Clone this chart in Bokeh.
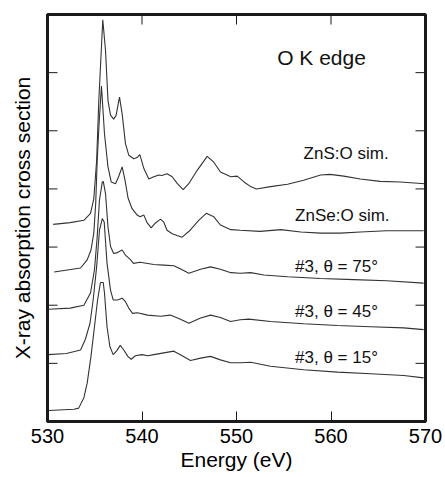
import math
from bokeh.plotting import figure
from bokeh.models import FixedTicker, Range1d
from bokeh.embed import file_html
from bokeh.resources import INLINE
from bokeh.core.properties import value

# ---- data (energy in eV, offset absorption in arbitrary units) ----
zns_e = [530.6, 532.4, 533.85, 534.55, 534.9, 535.2, 535.43, 535.85, 536.14, 536.4, 536.67, 537.0,
         537.25, 537.62, 537.9, 538.25, 538.6, 539.13, 539.48, 539.77, 540.2, 540.72, 541.25, 541.78,
         542.1, 542.65, 543.2, 543.7, 544.36, 544.95, 545.84, 546.9, 547.6, 548.3, 549.4, 550.07,
         550.8, 551.5, 552.1, 553.6, 555.4, 557.1, 558.9, 559.9, 561.35, 563.1, 565.2, 567.35, 569.9]
zns_v = [3.39, 3.42, 3.46, 3.58, 3.83, 4.49, 5.52, 6.91, 6.38, 5.52, 5.27, 5.20,
         5.26, 5.58, 5.29, 4.78, 4.58, 4.52, 4.54, 4.59, 4.35, 4.17, 4.21, 4.24,
         4.23, 4.26, 4.21, 4.10, 3.99, 4.09, 4.32, 4.56, 4.46, 4.29, 4.21, 4.22,
         4.12, 4.04, 4.00, 4.04, 4.08, 4.15, 4.24, 4.25, 4.22, 4.17, 4.13, 4.12, 4.09]

znse_e = [530.7, 533.5, 534.2, 534.6, 534.9, 535.1, 535.26, 535.45, 535.71, 536.03, 536.4, 536.74,
          537.2, 537.5, 537.9, 538.2, 538.53, 538.95, 539.49, 539.8, 540.2, 540.5, 540.97, 541.4,
          541.96, 542.3, 542.65, 543.2, 543.7, 544.25, 545.1, 546.0, 546.8, 547.6, 548.3, 549.4,
          550.4, 552.5, 554.7, 556.8, 558.9, 561.0, 563.1, 565.9, 569.8]
znse_v = [2.57, 2.64, 2.78, 2.95, 3.24, 3.75, 4.49, 5.10, 5.77, 4.95, 4.38, 4.12,
          4.09, 4.20, 4.38, 4.15, 3.84, 3.66, 3.55, 3.52, 3.55, 3.43, 3.33, 3.41,
          3.48, 3.43, 3.29, 3.23, 3.20, 3.17, 3.29, 3.46, 3.58, 3.52, 3.38, 3.30,
          3.29, 3.27, 3.30, 3.26, 3.24, 3.24, 3.26, 3.28, 3.28]

t75_e = [530.1, 532.4, 533.85, 534.55, 534.97, 535.26, 535.5, 535.8, 535.9, 536.14, 536.4, 536.67,
         537.0, 537.3, 537.9, 538.25, 538.8, 539.1, 539.8, 541.25, 542.3, 543.37, 544.25, 544.96,
         546.2, 547.25, 548.3, 549.4, 550.4, 551.5, 552.9, 555.4, 558.9, 562.4, 565.9, 569.8]
t75_v = [1.93, 1.95, 2.00, 2.21, 2.61, 3.18, 3.81, 4.12, 4.13, 3.92, 3.35, 3.01,
         2.89, 2.90, 2.95, 2.86, 2.78, 2.72, 2.74, 2.70, 2.69, 2.68, 2.61, 2.55,
         2.62, 2.66, 2.62, 2.56, 2.55, 2.56, 2.52, 2.49, 2.46, 2.44, 2.42, 2.38]

t45_e = [530.1, 532.0, 533.5, 534.0, 534.5, 534.83, 535.2, 535.5, 535.8, 536.0, 536.3, 536.67,
         536.95, 537.4, 537.9, 538.25, 538.6, 539.0, 539.5, 540.6, 541.96, 543.0, 544.07, 544.96,
         546.2, 547.25, 548.3, 549.37, 550.4, 551.3, 553.6, 557.1, 560.7, 564.2, 567.7, 569.8]
t45_v = [1.15, 1.17, 1.23, 1.41, 1.69, 2.09, 2.66, 3.29, 3.49, 3.43, 2.72, 2.26,
         2.09, 2.09, 2.12, 2.06, 1.95, 1.86, 1.87, 1.83, 1.81, 1.83, 1.76, 1.69,
         1.78, 1.83, 1.79, 1.72, 1.75, 1.76, 1.72, 1.68, 1.65, 1.63, 1.61, 1.58]

t15_e = [530.1, 532.8, 533.3, 533.85, 534.2, 534.6, 534.97, 535.3, 535.6, 535.9, 536.03, 536.3,
         536.6, 536.95, 537.3, 537.7, 538.07, 538.5, 538.85, 539.3, 540.0, 540.6, 541.25, 542.3,
         543.37, 544.25, 545.13, 546.2, 547.25, 548.3, 549.37, 550.4, 551.5, 553.6, 557.1, 560.7,
         564.2, 567.7, 569.8]
t15_v = [0.19, 0.21, 0.23, 0.41, 0.66, 1.12, 1.63, 2.09, 2.39, 2.39, 2.21, 1.63,
         1.29, 1.15, 1.21, 1.31, 1.23, 1.12, 1.07, 1.13, 1.15, 1.13, 1.15, 1.18,
         1.21, 1.13, 1.05, 1.09, 1.12, 1.06, 1.01, 1.01, 1.02, 0.95, 0.89, 0.85,
         0.82, 0.79, 0.75]

labels = ["ZnS:O sim.", "ZnSe:O sim.", "#3, \u03b8 = 75\u00b0", "#3, \u03b8 = 45\u00b0", "#3, \u03b8 = 15\u00b0"]
x_ticks = [530, 540, 550, 560, 570]
y_ticks = [1, 2, 3, 4, 5, 6]
X_MIN, X_MAX = 530, 570
Y_MIN, Y_MAX = 0, 7

# annotation anchor positions (data coords)
label_x = [557.1, 556.2, 556.2, 556.2, 556.2]
label_y = [4.61, 3.55, 2.66, 1.89, 1.10]

FONT = "Liberation Sans"
INK = "#1a1a1a"

p = figure(width=445, height=477, output_backend="svg", toolbar_location=None,
           x_range=Range1d(X_MIN, X_MAX), y_range=Range1d(Y_MIN, Y_MAX),
           min_border_left=47, min_border_right=20, min_border_top=14, min_border_bottom=56)
p.background_fill_color = "white"
p.border_fill_color = "white"
p.grid.visible = False
p.outline_line_color = INK
p.outline_line_width = 3

for xs, ys in [(zns_e, zns_v), (znse_e, znse_v), (t75_e, t75_v), (t45_e, t45_v), (t15_e, t15_v)]:
    p.line(xs, ys, line_color="#333333", line_width=1.1)

# inward tick marks on the left/right/top edges (positions from the tick lists)
inner_y = [t for t in y_ticks]
inner_x = [t for t in x_ticks if X_MIN < t < X_MAX]
p.ray(x=[X_MIN] * len(inner_y), y=inner_y, length=10, angle=0, length_units="screen",
      line_color=INK, line_width=1)
p.ray(x=[X_MAX] * len(inner_y), y=inner_y, length=10, angle=math.pi, length_units="screen",
      line_color=INK, line_width=1)
p.ray(x=inner_x, y=[Y_MAX] * len(inner_x), length=10, angle=-math.pi / 2, length_units="screen",
      line_color=INK, line_width=1)

p.text(x=label_x, y=label_y, text=labels, text_font=value(FONT), text_font_size="17px",
       text_align="left", text_baseline="middle", text_color="#111111")
p.text(x=[554.3], y=[6.26], text=["O K edge"], text_font=value(FONT), text_font_size="21px",
       text_align="left", text_baseline="middle", text_color="#111111")

xa = p.xaxis[0]
xa.ticker = FixedTicker(ticks=x_ticks)
xa.major_tick_in = 10
xa.major_tick_out = 0
xa.minor_tick_line_color = None
xa.major_tick_line_color = INK
xa.axis_line_color = INK
xa.axis_line_width = 3
xa.major_label_text_font = FONT
xa.major_label_text_font_size = "20px"
xa.major_label_text_color = "black"
xa.major_label_standoff = 7
xa.axis_label = "Energy (eV)"
xa.axis_label_text_font = FONT
xa.axis_label_text_font_size = "21px"
xa.axis_label_text_font_style = "normal"
xa.axis_label_text_color = "black"
xa.axis_label_standoff = 2

ya = p.yaxis[0]
ya.ticker = FixedTicker(ticks=[])
ya.major_tick_line_color = None
ya.minor_tick_line_color = None
ya.axis_line_color = INK
ya.axis_line_width = 3
ya.axis_label = "X-ray absorption cross section"
ya.axis_label_text_font = FONT
ya.axis_label_text_font_size = "21px"
ya.axis_label_text_font_style = "normal"
ya.axis_label_text_color = "black"
ya.axis_label_standoff = 14

open("out.html", "w").write(file_html(p, INLINE))
